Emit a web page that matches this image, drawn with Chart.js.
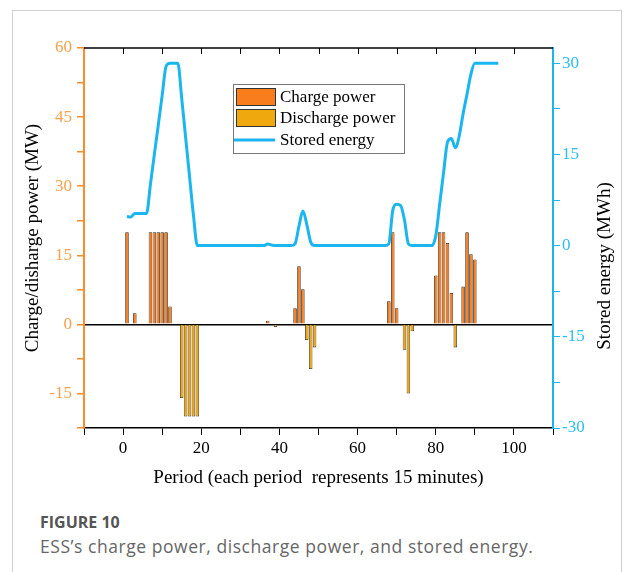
<!DOCTYPE html>
<html><head><meta charset="utf-8">
<script src="https://cdn.jsdelivr.net/npm/chart.js@4"></script>
<style>
html,body{margin:0;padding:0;background:#fff;overflow:hidden;}
#card{position:absolute;left:12px;top:10px;width:608px;height:620px;border:1px solid #d2d2d2;border-bottom:none;}
#wrap{position:absolute;left:0;top:0;width:625px;height:500px;}
#fig{position:absolute;left:40px;top:511px;font-family:"Open Sans",sans-serif;font-weight:700;font-size:16px;color:#555;}
#cap{position:absolute;left:40px;top:534px;font-family:"Open Sans",sans-serif;font-size:17.5px;letter-spacing:0.55px;color:#666;}
</style></head>
<body>
<div id="card"></div>
<div id="wrap"><canvas id="c" width="625" height="500"></canvas></div>
<div id="fig">FIGURE 10</div>
<div id="cap">ESS’s charge power, discharge power, and stored energy.</div>
<script>
// ---- data ----
const chargePeriods = [1, 3, 7, 8, 9, 10, 11, 12, 37, 44, 45, 46, 68, 69, 70, 80, 81, 82, 83, 84, 87, 88, 89, 90];
const chargeValues  = [20, 2.4, 20, 20, 20, 20, 20, 3.9, 0.8, 3.5, 12.6, 7.6, 5.0, 20, 3.5, 10.6, 20, 20, 17.7, 6.8, 8.2, 20, 15.2, 14.1];
const dischargePeriods = [15, 16, 17, 18, 19, 39, 47, 48, 49, 72, 73, 74, 85];
const dischargeValues  = [-16, -20, -20, -20, -20, -0.6, -3.4, -9.7, -5.0, -5.5, -15, -1.5, -5.0];
const energyPeriods = [1,2,3,4,5,6,7,8,9,10,11,12,13,14,15,16,17,18,19,20,21,22,23,24,25,26,27,28,29,30,31,32,33,34,35,36,37,38,39,40,41,42,43,44,45,46,47,48,49,50,51,52,53,54,55,56,57,58,59,60,61,62,63,64,65,66,67,68,69,70,71,72,73,74,75,76,77,78,79,80,81,82,83,84,85,86,87,88,89,90,91,92,93,94,95,96];
const energyValues = [4.8,4.7,5.3,5.3,5.3,5.3,10.1,15.0,19.8,24.7,29.5,30,30,30,24.2,17.8,11.4,5.0,0,
  0,0,0,0,0,0,0,0,0,0,0,0,0,0,0,0,0,
  0.25,0.1,
  0,0,0,0,0,
  0.3,3.2,5.7,3.5,0.6,
  0,0,0,0,0,0,0,0,0,0,0,0,0,0,0,0,0,0,0,
  0.3,5.8,6.8,6.6,4.2,0.3,
  0,0,0,0,0,0,
  1.6,6.8,12.0,17.0,17.6,16.1,18.0,21.7,24.9,28.2,30,
  30,30,30,30,30,30];
const xTickLabels = [0, 20, 40, 60, 80, 100];
const leftTickLabels = [-15, 0, 15, 30, 45, 60];
const rightTickLabels = [-30, -15, 0, 15, 30];

const ORANGE = '#FA8C2E', ORANGE_T = '#F8A04C', CYAN = '#1BB6EF', CYAN_T = '#2BBDF1';
const SERIF = 'Liberation Serif';

const pairs = (xs, ys) => xs.map((x, i) => ({x: x, y: ys[i]}));

const framePlugin = {
  id: 'frame',
  afterDatasetsDraw(chart) {
    const {ctx, chartArea: a, scales} = chart;
    ctx.save();
    ctx.strokeStyle = '#000'; ctx.lineWidth = 1.5;
    ctx.beginPath(); ctx.moveTo(a.left, a.top); ctx.lineTo(a.right, a.top); ctx.stroke();
    ctx.lineWidth = 1;
    scales.x.ticks.forEach(t => {
      const px = Math.round(scales.x.getPixelForValue(t.value)) + 0.5;
      if (px <= a.left + 1 || px >= a.right - 1) return;
      ctx.beginPath(); ctx.moveTo(px, a.top); ctx.lineTo(px, a.top + 6); ctx.stroke();
    });
    // legend
    const lx = a.left + 149, ly = a.top + 36, lw = 171, lh = 69;
    ctx.fillStyle = '#fff'; ctx.fillRect(lx, ly, lw, lh);
    ctx.strokeStyle = '#777'; ctx.lineWidth = 1; ctx.strokeRect(lx + 0.5, ly + 0.5, lw, lh);
    const ds = chart.data.datasets;
    ctx.font = '17px "' + SERIF + '"'; ctx.textBaseline = 'middle'; ctx.textAlign = 'left';
    const rows = [ly + 13, ly + 34, ly + 56];
    [0, 1].forEach(i => {
      ctx.fillStyle = ds[i].backgroundColor; ctx.fillRect(lx + 3.5, rows[i] - 8.5, 39, 17);
      ctx.strokeStyle = '#333'; ctx.strokeRect(lx + 3.5, rows[i] - 8.5, 39, 17);
    });
    ctx.strokeStyle = ds[2].borderColor; ctx.lineWidth = 3;
    ctx.beginPath(); ctx.moveTo(lx + 1, rows[2]); ctx.lineTo(lx + 42, rows[2]); ctx.stroke();
    ctx.fillStyle = '#000';
    ds.forEach((d, i) => ctx.fillText(d.label, lx + 47, rows[i] + 1));
    // right axis title (reads bottom to top)
    const s = scales.y2;
    ctx.save();
    ctx.translate(s.right - 20, (a.top + a.bottom) / 2 + 28);
    ctx.rotate(-Math.PI / 2);
    ctx.font = '19px "' + SERIF + '"'; ctx.textAlign = 'center'; ctx.fillStyle = '#000';
    ctx.fillText('Stored energy (MWh)', 0, 0);
    ctx.restore();
    ctx.restore();
  }
};

new Chart(document.getElementById('c'), {
  data: {
    datasets: [
      {type: 'bar', label: 'Charge power', data: pairs(chargePeriods, chargeValues), backgroundColor: '#F97D1C', borderColor: '#2e2418', borderWidth: 0.8, stack: 'p', categoryPercentage: 1, barPercentage: 0.9, yAxisID: 'y', order: 2},
      {type: 'bar', label: 'Discharge power', data: pairs(dischargePeriods, dischargeValues), backgroundColor: '#F0A80F', borderColor: '#2e2418', borderWidth: 0.8, stack: 'p', categoryPercentage: 1, barPercentage: 0.9, yAxisID: 'y', order: 2},
      {type: 'line', label: 'Stored energy', data: pairs(energyPeriods, energyValues), borderColor: CYAN, borderWidth: 3, pointRadius: 0, cubicInterpolationMode: 'monotone', yAxisID: 'y2', order: 1}
    ]
  },
  options: {
    responsive: false, animation: false,
    layout: {padding: {top: 48, left: 0, right: 0, bottom: 0}},
    plugins: {legend: {display: false}, tooltip: {enabled: false}},
    scales: {
      x: {
        type: 'linear', position: 'bottom', min: -10, max: 110, offset: false,
        ticks: {stepSize: 10, autoSkip: false, maxRotation: 0, color: '#000', padding: 3,
          font: {family: SERIF, size: 17},
          callback: v => xTickLabels.includes(v) ? String(v) : ''},
        grid: {drawOnChartArea: false, offset: false, color: '#000', tickLength: 7},
        border: {color: '#000', width: 1.5},
        title: {display: true, text: 'Period (each period  represents 15 minutes)', color: '#000',
          font: {family: SERIF, size: 19}, padding: {top: 0, bottom: 11}},
        afterFit: s => { s.height = 72; }
      },
      y: {
        position: 'left', min: -22.5, max: 60,
        ticks: {stepSize: 7.5, color: ORANGE_T, padding: 5, font: {family: SERIF, size: 17},
          callback: v => leftTickLabels.includes(v) ? String(v) : ''},
        grid: {drawOnChartArea: true, tickLength: 7, tickColor: ORANGE,
          color: c => (c.tick && c.tick.value === 0) ? '#000' : 'rgba(0,0,0,0)', lineWidth: 1.5},
        border: {color: ORANGE, width: 2},
        title: {display: true, text: 'Charge/disharge power (MW)', color: '#000',
          font: {family: SERIF, size: 19}, padding: {top: 22, bottom: 0}},
        afterFit: s => { s.width = 84; }
      },
      y2: {
        position: 'right', min: -30, max: 32.5,
        ticks: {stepSize: 7.5, includeBounds: false, color: CYAN_T, padding: 2, font: {family: SERIF, size: 17},
          callback: v => rightTickLabels.includes(v) ? String(v) : ''},
        grid: {drawOnChartArea: false, color: CYAN, tickLength: 7},
        border: {color: CYAN, width: 2},
        afterFit: s => { s.width = 72; }
      }
    }
  },
  plugins: [framePlugin]
});
</script>
</body></html>
